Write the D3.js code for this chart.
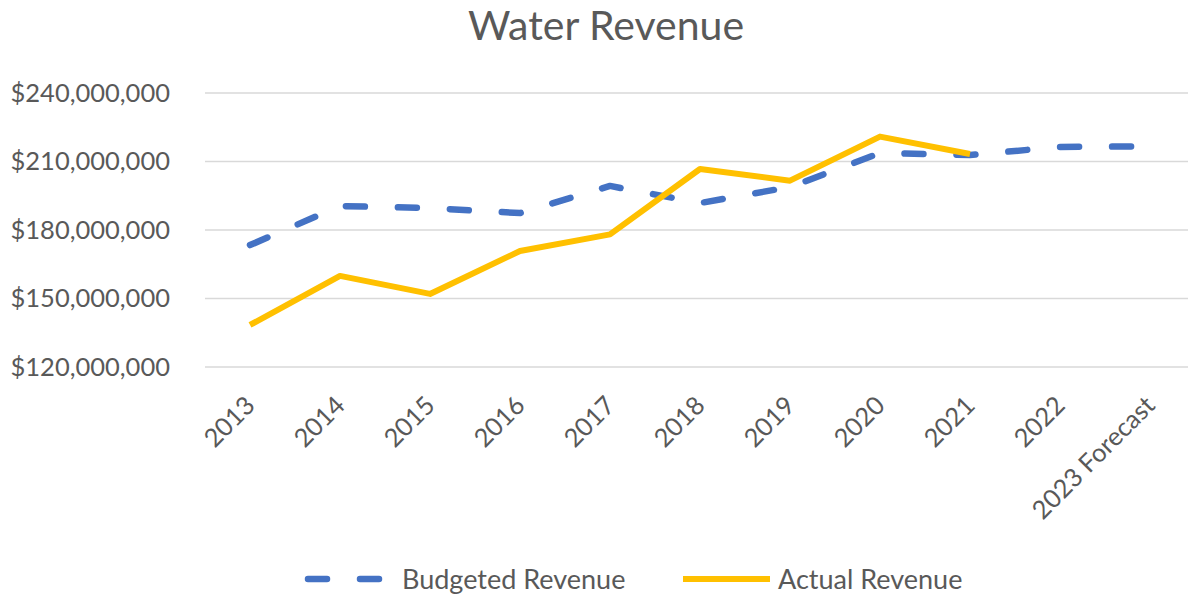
<!DOCTYPE html>
<html>
<head>
<meta charset="utf-8">
<script src="https://cdn.jsdelivr.net/npm/d3@7"></script>
<style>
  html, body { margin: 0; padding: 0; background: #ffffff; }
  svg { display: block; }
  text { font-family: Lato, "Open Sans", sans-serif; fill: #595959; }
</style>
</head>
<body>
<svg id="chart" width="1188" height="594"></svg>
<script>
// ---- Data ----
const categories = ["2013", "2014", "2015", "2016", "2017", "2018", "2019", "2020", "2021", "2022", "2023 Forecast"];
const budgetedRevenue = [173400000, 190500000, 189600000, 187400000, 199300000, 191800000, 198800000, 213700000, 212800000, 216400000, 216600000];
const actualRevenue = [138400000, 159900000, 152000000, 170800000, 178100000, 206700000, 201600000, 220900000, 213300000];
const yTicks = [120000000, 150000000, 180000000, 210000000, 240000000];
const seriesNames = ["Budgeted Revenue", "Actual Revenue"];
const chartTitle = "Water Revenue";

// ---- Layout ----
const W = 1188, H = 594;
const plot = { left: 205, right: 1195, top: 93, bottom: 367 };
const svg = d3.select("#chart");

const x = d3.scalePoint().domain(categories).range([plot.left, plot.right]).padding(0.5);
const y = d3.scaleLinear().domain([120000000, 240000000]).range([plot.bottom, plot.top]);

// Title
svg.append("text")
  .attr("x", 606).attr("y", 40)
  .attr("text-anchor", "middle")
  .style("font-size", "41px")
  .text(chartTitle);

// Gridlines
svg.append("g")
  .selectAll("line").data(yTicks).join("line")
  .attr("x1", plot.left).attr("x2", W)
  .attr("y1", d => y(d)).attr("y2", d => y(d))
  .attr("stroke", "#d9d9d9").attr("stroke-width", 1.5);

// Y axis labels
const fmt = d => "$" + d3.format(",")(d);
const yAxis = d3.axisLeft(y).tickValues(yTicks).tickFormat(fmt).tickSize(0).tickPadding(0);
const gy = svg.append("g").attr("transform", "translate(170,0)").call(yAxis);
gy.select(".domain").remove();
gy.selectAll("text")
  .attr("fill", "#595959")
  .style("font-family", "Lato, 'Open Sans', sans-serif")
  .style("font-size", "25.5px");

// X axis labels (rotated)
const xAxis = d3.axisBottom(x).tickSize(0).tickPadding(0);
const gx = svg.append("g").attr("transform", "translate(0," + plot.bottom + ")").call(xAxis);
gx.select(".domain").remove();
gx.selectAll("text")
  .attr("fill", "#595959")
  .style("font-family", "Lato, 'Open Sans', sans-serif")
  .style("font-size", "25.5px")
  .attr("text-anchor", "end")
  .attr("dy", null)
  .attr("y", null)
  .attr("transform", "translate(6,40) rotate(-45)");

// Lines
const line = d3.line().x((d, i) => x(categories[i])).y(d => y(d));

svg.append("path")
  .datum(budgetedRevenue)
  .attr("d", line)
  .attr("fill", "none")
  .attr("stroke", "#4472C4")
  .attr("stroke-width", 6.5)
  .attr("stroke-linecap", "round")
  .attr("stroke-linejoin", "round")
  .attr("stroke-dasharray", "19 33");

svg.append("path")
  .datum(actualRevenue)
  .attr("d", line)
  .attr("fill", "none")
  .attr("stroke", "#FFC000")
  .attr("stroke-width", 6)
  .attr("stroke-linejoin", "round")
  .attr("stroke-linecap", "butt");

// Legend
const legend = svg.append("g");
const legY = 579;
legend.append("line")
  .attr("x1", 308).attr("x2", 388).attr("y1", legY).attr("y2", legY)
  .attr("stroke", "#4472C4").attr("stroke-width", 6.5)
  .attr("stroke-linecap", "round").attr("stroke-dasharray", "19 33");
legend.append("text")
  .attr("x", 402).attr("y", legY + 10)
  .style("font-size", "27px")
  .text(seriesNames[0]);
legend.append("line")
  .attr("x1", 683).attr("x2", 770).attr("y1", legY).attr("y2", legY)
  .attr("stroke", "#FFC000").attr("stroke-width", 6);
legend.append("text")
  .attr("x", 778).attr("y", legY + 10)
  .style("font-size", "27px")
  .text(seriesNames[1]);
</script>
</body>
</html>
